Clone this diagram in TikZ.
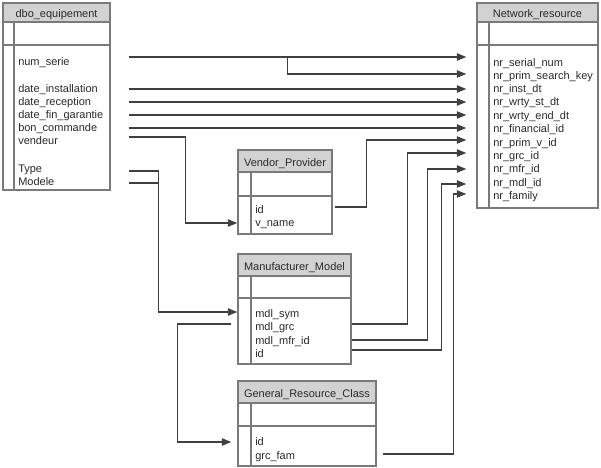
\documentclass[tikz,border=0pt]{standalone}
\usepackage{fontspec}
\setmainfont{Liberation Sans}
\usetikzlibrary{calc,fit,arrows.meta}
\definecolor{bordc}{HTML}{7A7A7A}
\definecolor{headc}{HTML}{D2D2D2}
\definecolor{linec}{HTML}{404040}
\definecolor{txtc}{HTML}{2A2A2A}
\newcommand\dbtable[9]{%
  \node[tabcell, fit={(#2,#6)(#3,#7)}] (#1) {};
  \node[tabcell, fit={(#2,#5)(#3,#6)}] (#1-key) {};
  \node[tabhead, fit={(#2,#4)(#3,#5)}] (#1-head) {};
  \node[tabtitle] (#1-title) at (#1-head.center) {#8};
  \draw[tabrule] (#9,#5) -- (#9,#7);
}
\begin{document}
\begin{tikzpicture}[x=0.75pt,y=-0.75pt,
  tabhead/.style={draw=bordc, line width=1.1pt, fill=headc, inner sep=0pt},
  tabtitle/.style={inner sep=0pt, text=txtc, font=\fontsize{8.25}{10}\selectfont, text height=6.2pt, text depth=1.8pt, yshift=-1.8pt},
  tabcell/.style={draw=bordc, line width=1.1pt, fill=white, inner sep=0pt},
  tabrule/.style={draw=bordc, line width=1.1pt},
  fld/.style={anchor=west, inner sep=0pt, text=txtc, font=\fontsize{8.25}{10}\selectfont, text height=6.2pt, text depth=1.8pt, yshift=-1.5pt},
  conn/.style={draw=linec, line width=0.8pt},
  arr/.style={conn, -{Triangle[length=7pt,width=5.5pt]}},
]
\useasboundingbox (0,0) rectangle (601,468);

% tables
\dbtable{dbo}{3}{110}{3}{22}{45}{190}{dbo\_equipement}{14}
\dbtable{nr}{477}{598}{3}{22}{45}{208}{Network\_resource}{489}
\dbtable{vp}{238}{332}{150}{172}{196}{234}{Vendor\_Provider}{251}
\dbtable{mm}{238}{351}{254}{276}{298}{364}{Manufacturer\_Model}{251}
\dbtable{grc}{238}{376}{381}{403}{426}{466}{General\_Resource\_Class}{251}

% dbo fields
\node[fld] (d-num)  at (18,61)  {num\_serie};
\node[fld] (d-inst) at (18,88)  {date\_installation};
\node[fld] (d-rec)  at (18,101) {date\_reception};
\node[fld] (d-fin)  at (18,114) {date\_fin\_garantie};
\node[fld] (d-bon)  at (18,127) {bon\_commande};
\node[fld] (d-ven)  at (18,140) {vendeur};
\node[fld] (d-type) at (18,168) {Type};
\node[fld] (d-mod)  at (18,181) {Modele};

% network resource fields
\node[fld] (n1)  at (493,62)  {nr\_serial\_num};
\node[fld] (n2)  at (493,75)  {nr\_prim\_search\_key};
\node[fld] (n3)  at (493,88)  {nr\_inst\_dt};
\node[fld] (n4)  at (493,101) {nr\_wrty\_st\_dt};
\node[fld] (n5)  at (493,115) {nr\_wrty\_end\_dt};
\node[fld] (n6)  at (493,128) {nr\_financial\_id};
\node[fld] (n7)  at (493,142) {nr\_prim\_v\_id};
\node[fld] (n8)  at (493,155) {nr\_grc\_id};
\node[fld] (n9)  at (493,168) {nr\_mfr\_id};
\node[fld] (n10) at (493,182) {nr\_mdl\_id};
\node[fld] (n11) at (493,195) {nr\_family};

% vendor provider fields
\node[fld] (vp-id)   at (255,209) {id};
\node[fld] (vp-name) at (255,222) {v\_name};

% manufacturer model fields
\node[fld] (mm-sym) at (255,313) {mdl\_sym};
\node[fld] (mm-grc) at (255,326) {mdl\_grc};
\node[fld] (mm-mfr) at (255,340) {mdl\_mfr\_id};
\node[fld] (mm-id)  at (255,353) {id};

% general resource class fields
\node[fld] (g-id)  at (255,441) {id};
\node[fld] (g-fam) at (255,455) {grc\_fam};

% connector reference x positions (text nodes are shifted 2px down; offsets below refer to their anchors)
\coordinate (sx) at ($(dbo.east)+(18,0)$);
\coordinate (tx) at ($(nr.west)+(-10,0)$);

% straight connectors dbo -> network resource
\draw[arr] ($(sx|-d-num)+(0,-6)$) coordinate (s1) -- (tx|-s1);
\draw[arr] ($(s1)+(159,0)$) |- ($(tx|-n2)+(0,-3)$);
\draw[arr] ($(sx|-d-inst)+(0,-1)$) coordinate (s2) -- (tx|-s2);
\draw[arr] ($(sx|-d-rec)+(0,-1)$) coordinate (s3) -- (tx|-s3);
\draw[arr] ($(sx|-d-fin)+(0,-1)$) coordinate (s4) -- (tx|-s4);
\draw[arr] ($(sx|-d-bon)+(0,-1)$) coordinate (s5) -- (tx|-s5);

% vendeur -> vendor provider
\draw[arr] ($(sx|-d-ven)+(0,-5)$) -- ++(57,0) |- ($(vp.west|-vp-name)+(0,-1)$);

% type / modele -> manufacturer model
\draw[arr] ($(sx|-d-type)+(0,1)$) -- ++(30,0) |- ($(mm.west|-mm-sym)+(0,-3)$);
\draw[conn] ($(sx|-d-mod)+(0,0)$) -- ++(30,0);

% vendor id -> nr_prim_v_id
\draw[arr] ($(vp.east|-vp-id)+(2,-4)$) -- ++(32,0) |- ($(tx|-n7)+(0,-4)$);

% manufacturer model -> network resource
\draw[arr] ($(mm.east|-mm-grc)+(0,-4)$) -- ++(56,0) |- ($(tx|-n8)+(0,-4)$);
\draw[arr] ($(mm.east|-mm-mfr)+(0,-2)$) -- ++(76,0) |- ($(tx|-n9)+(0,-1)$);
\draw[arr] ($(mm.east|-mm-id)+(0,-5)$) -- ++(90,0) |- ($(tx|-n10)+(0,0)$);

% grc_fam -> nr_family
\draw[arr] ($(grc.east|-g-fam)+(6,-3)$) -- ++(71,0) |- ($(tx|-n11)+(0,-3)$);

% mdl_grc -> general resource class
\draw[arr] ($(mm.west|-mm-grc)+(-6,-4)$) -- ++(-54,0) |- ($(grc.west|-g-id)+(-6,-1)$);
\end{tikzpicture}
\end{document}
